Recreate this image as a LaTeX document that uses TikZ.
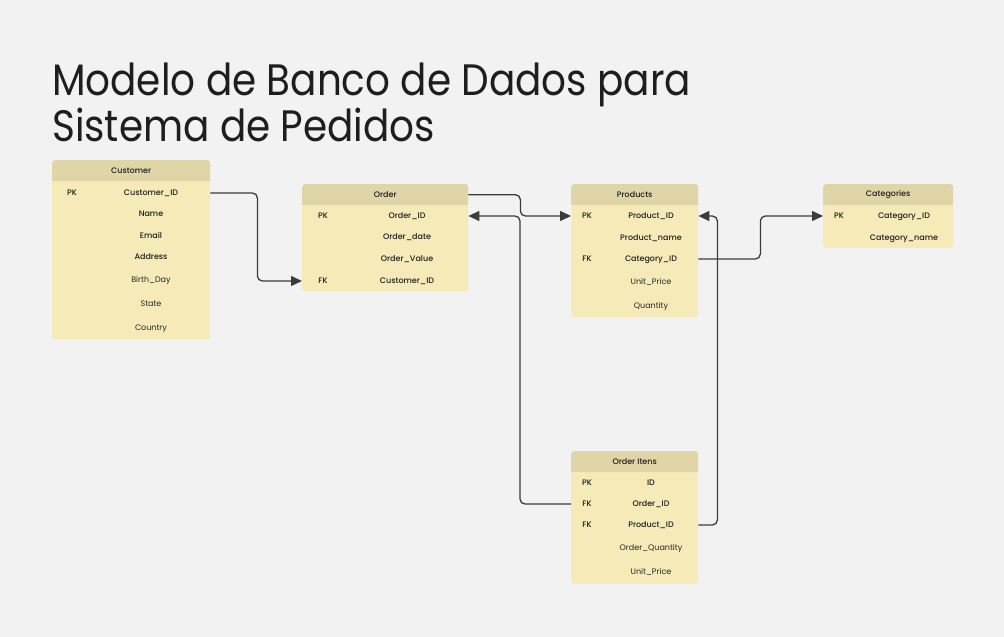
\documentclass[tikz,border=0pt]{standalone}
\usepackage{fontspec}
\setmainfont{Poppins}
\newfontfamily\medfont{Poppins Medium}
\newfontfamily\titlefont{Poppins}[FakeStretch=0.885]
\usetikzlibrary{arrows.meta,positioning}

\definecolor{bgCol}{HTML}{F2F2F2}
\definecolor{bodyCol}{HTML}{F6EAB9}
\definecolor{headCol}{HTML}{E0D5A6}
\definecolor{lineCol}{HTML}{3C3C3C}
\definecolor{txtCol}{HTML}{1E1E1E}
\definecolor{lightTxt}{HTML}{262626}

\tikzstyle{tableBox} = [rectangle, fill=bodyCol, rounded corners=3pt, anchor=north west, inner sep=0pt]
\tikzstyle{tableHead} = [rectangle, fill=headCol, rounded corners=3pt, anchor=north west, inner sep=0pt,
minimum height=21pt, text=txtCol, font=\medfont\fontsize{8}{9}\selectfont]
\tikzstyle{key} = [text=txtCol, inner sep=0pt, text height=5.6pt, text depth=0pt, font=\medfont\fontsize{8}{9}\selectfont]
\tikzstyle{field} = [text=txtCol, inner sep=0pt, text height=5.6pt, text depth=0pt, font=\medfont\fontsize{8}{9}\selectfont]
\tikzstyle{fieldLight} = [text=lightTxt, inner sep=0pt, text height=5.6pt, text depth=0pt, font=\fontsize{8}{9}\selectfont]
\tikzstyle{titleText} = [anchor=base west, inner sep=0pt, text=txtCol, font=\titlefont\fontsize{44}{46}\selectfont]
\tikzstyle{line} = [draw=lineCol, line width=1.3pt, rounded corners=5pt, -{Triangle[length=11pt,width=10pt]}]

\begin{document}
\begin{tikzpicture}[x=1pt,y=-1pt]

   \useasboundingbox (0,0) rectangle (1004,637);
   \fill[bgCol] (0,0) rectangle (1004,637);

   % Title
   \node[titleText] (title1) at (52,95) {Modelo de Banco de Dados para};
   \node[titleText] (title2) at (52,141) {Sistema de Pedidos};

   % Customer
   \node[tableBox, minimum width=158pt, minimum height=179pt] (customer) at (52,160) {};
   \node[tableHead, minimum width=158pt] (customerHead) at (customer.north west) {Customer};
   \fill[headCol] ([yshift=4pt]customerHead.south west) rectangle (customerHead.south east);

   \node[key] (custPK) at (72,193) {PK};
   \node[field] (custID) at (151,193) {Customer\_ID};
   \node[field] (custName) at (151,214) {Name};
   \node[field] (custEmail) at (151,236) {Email};
   \node[field] (custAddr) at (151,257) {Address};
   \node[fieldLight] (custBirth) at (151,280) {Birth\_Day};
   \node[fieldLight] (custState) at (151,304) {State};
   \node[fieldLight] (custCountry) at (151,328) {Country};

   % Order
   \node[tableBox, minimum width=166pt, minimum height=107pt] (order) at (302,184) {};
   \node[tableHead, minimum width=166pt] (orderHead) at (order.north west) {Order};
   \fill[headCol] ([yshift=4pt]orderHead.south west) rectangle (orderHead.south east);

   \node[key] (ordPK) at (323,216) {PK};
   \node[field] (ordID) at (407,216) {Order\_ID};
   \node[field] (ordDate) at (407,237) {Order\_date};
   \node[field] (ordValue) at (407,259) {Order\_Value};
   \node[key] (ordFK) at (323,281) {FK};
   \node[field] (ordCust) at (407,281) {Customer\_ID};

   % Products
   \node[tableBox, minimum width=127pt, minimum height=133pt] (products) at (571,184) {};
   \node[tableHead, minimum width=127pt] (productsHead) at (products.north west) {Products};
   \fill[headCol] ([yshift=4pt]productsHead.south west) rectangle (productsHead.south east);

   \node[key] (prodPK) at (587,216) {PK};
   \node[field] (prodID) at (651,216) {Product\_ID};
   \node[field] (prodName) at (651,238) {Product\_name};
   \node[key] (prodFK) at (587,259) {FK};
   \node[field] (prodCat) at (651,259) {Category\_ID};
   \node[fieldLight] (prodPrice) at (651,282) {Unit\_Price};
   \node[fieldLight] (prodQty) at (651,306) {Quantity};

   % Categories
   \node[tableBox, minimum width=130pt, minimum height=64pt] (categories) at (823,184) {};
   \node[tableHead, minimum width=130pt] (categoriesHead) at (categories.north west) {Categories};
   \fill[headCol] ([yshift=4pt]categoriesHead.south west) rectangle (categoriesHead.south east);

   \node[key] (catPK) at (839,216) {PK};
   \node[field] (catID) at (904,216) {Category\_ID};
   \node[field] (catName) at (904,238) {Category\_name};

   % Order Itens
   \node[tableBox, minimum width=127pt, minimum height=133pt] (items) at (571,451) {};
   \node[tableHead, minimum width=127pt] (itemsHead) at (items.north west) {Order Itens};
   \fill[headCol] ([yshift=4pt]itemsHead.south west) rectangle (itemsHead.south east);

   \node[key] (itemPK) at (587,483) {PK};
   \node[field] (itemID) at (651,483) {ID};
   \node[key] (itemFK1) at (587,504) {FK};
   \node[field] (itemOrd) at (651,504) {Order\_ID};
   \node[key] (itemFK2) at (587,525) {FK};
   \node[field] (itemProd) at (651,525) {Product\_ID};
   \node[fieldLight] (itemQty) at (651,548) {Order\_Quantity};
   \node[fieldLight] (itemPrice) at (651,572) {Unit\_Price};

   %% Lines

   \path[line] (custID -| customer.east) -- ++(47,0) |- (ordCust -| order.west);
   \path[line] (orderHead.east) -- ++(52,0) |- (prodID -| products.west);
   \path[line] (itemOrd -| items.west) -- ++(-51,0) |- (ordID -| order.east);
   \path[line] (itemProd -| items.east) -- ++(19,0) |- (prodID -| products.east);
   \path[line] (prodCat -| products.east) -- ++(62,0) |- (catID -| categories.west);

\end{tikzpicture}
\end{document}
